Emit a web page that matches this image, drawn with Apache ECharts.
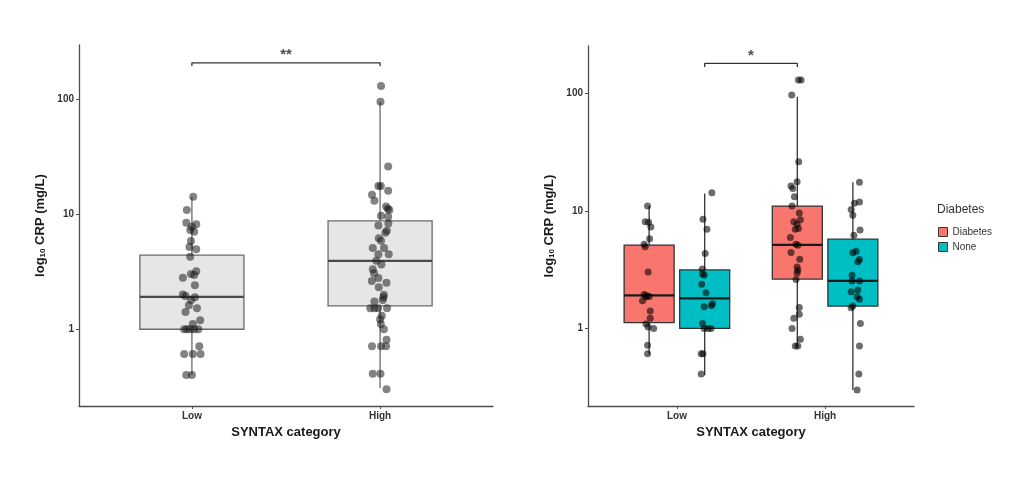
<!DOCTYPE html>
<html>
<head>
<meta charset="utf-8">
<script src="https://cdn.jsdelivr.net/npm/echarts@6/dist/echarts.min.js"></script>
<style>
  html, body { margin: 0; padding: 0; background: #fff; }
  #myChart { width: 1024px; height: 479px; }
</style>
</head>
<body>
<div id="myChart"></div>
<script>
  // categories and tick labels
  var categories = ['Low', 'High']
  var groups = ['Diabetes', 'None']
  var yTicks = [1, 10, 100]

  // boxes: [x, min, q1, median, q3, max]
  var allBoxes = [[1, 0.40, 1.00, 1.91, 4.42, 14.2], [2, 0.307, 1.60, 3.93, 8.75, 95.3]]
  var diabetesBoxes = [[0.8125, 0.60, 1.12, 1.91, 5.12, 11.0], [1.8125, 0.70, 2.63, 5.15, 11.0, 93.5]]
  var noneBoxes = [[1.1875, 0.40, 1.00, 1.80, 3.15, 14.1], [2.1875, 0.30, 1.55, 2.54, 5.75, 17.5]]

  // jittered points: [x, CRP]
  var allPoints = [
    [1.007, 14.2], [0.973, 10.9], [0.970, 8.45], [1.023, 8.2], [1.000, 7.8], [0.991, 7.3], [1.012, 7.06],
    [0.995, 5.86], [0.987, 5.2], [1.023, 4.96], [0.991, 4.28], [1.023, 3.2], [0.995, 3.03], [1.012, 2.97],
    [0.952, 2.81], [1.016, 2.41], [0.952, 2.01], [0.966, 1.95], [1.016, 1.9], [0.996, 1.8], [0.984, 1.62],
    [1.027, 1.52], [0.966, 1.41], [1.044, 1.2], [1.005, 1.11], [0.959, 1.0], [0.973, 1.0], [0.991, 1.0],
    [1.012, 1.0], [1.034, 1.0], [1.039, 0.71], [0.959, 0.61], [1.005, 0.61], [1.046, 0.61], [0.970, 0.40],
    [1.000, 0.40],
    [2.005, 130.6], [2.002, 95.3], [2.043, 26.1], [1.991, 17.6], [2.004, 17.6], [2.043, 16.0], [1.957, 14.8],
    [1.970, 13.1], [2.032, 11.7], [2.041, 11.2], [2.049, 10.9], [2.005, 9.7], [2.043, 9.5], [2.044, 8.3],
    [1.991, 8.0], [2.036, 7.2], [2.028, 6.9], [1.993, 6.2], [2.005, 5.9], [1.961, 5.1], [2.021, 5.1],
    [2.046, 4.49], [1.991, 4.49], [1.980, 3.95], [2.007, 3.65], [1.961, 3.32], [1.968, 3.07], [1.991, 2.79],
    [1.956, 2.63], [2.034, 2.54], [1.993, 2.32], [2.020, 2.0], [2.018, 1.9], [2.014, 1.8], [1.970, 1.74],
    [1.948, 1.52], [1.970, 1.52], [1.989, 1.52], [2.037, 1.52], [2.009, 1.31], [2.000, 1.22], [2.004, 1.11],
    [2.020, 1.0], [2.034, 0.81], [1.957, 0.71], [2.005, 0.71], [2.032, 0.71], [1.961, 0.41], [2.002, 0.41],
    [2.034, 0.30]
  ]
  var diabetesPoints = [
    [0.802, 11.0], [0.786, 8.1], [0.809, 8.0], [0.824, 7.3], [0.816, 5.8], [0.779, 5.2], [0.786, 4.95],
    [0.806, 3.03], [0.779, 1.95], [0.797, 1.9], [0.813, 1.87], [0.791, 1.85], [0.768, 1.72], [0.820, 1.41],
    [0.820, 1.22], [0.791, 1.09], [0.806, 1.03], [0.843, 1.0], [0.802, 0.72], [0.802, 0.61],
    [1.820, 129.8], [1.838, 129.8], [1.775, 96.8], [1.822, 26.2], [1.770, 16.3], [1.782, 15.5], [1.811, 17.7],
    [1.793, 13.2], [1.777, 11.0], [1.826, 9.6], [1.789, 8.1], [1.833, 8.4], [1.811, 7.7], [1.799, 7.0],
    [1.820, 7.1], [1.766, 5.95], [1.804, 5.2], [1.816, 5.1], [1.770, 4.43], [1.829, 3.89], [1.811, 3.34],
    [1.816, 3.13], [1.811, 2.97], [1.804, 2.61], [1.826, 1.51], [1.789, 1.22], [1.826, 1.32], [1.777, 1.0],
    [1.833, 0.81], [1.799, 0.71], [1.816, 0.71]
  ]
  var nonePoints = [
    [1.236, 14.3], [1.176, 8.5], [1.203, 7.0], [1.191, 4.35], [1.171, 3.2], [1.173, 2.9], [1.184, 2.85],
    [1.167, 2.38], [1.196, 2.01], [1.184, 1.53], [1.232, 1.57], [1.241, 1.62], [1.173, 1.1], [1.184, 1.0],
    [1.211, 1.0], [1.230, 1.0], [1.164, 0.61], [1.176, 0.61], [1.164, 0.41],
    [2.232, 17.5], [2.232, 11.9], [2.198, 11.6], [2.176, 10.3], [2.187, 9.2], [2.236, 6.87], [2.194, 6.2],
    [2.209, 4.55], [2.187, 4.4], [2.232, 3.87], [2.221, 3.69], [2.182, 2.84], [2.232, 2.53], [2.182, 2.53],
    [2.221, 2.12], [2.176, 2.05], [2.216, 1.86], [2.232, 1.77], [2.187, 1.55], [2.176, 1.5], [2.238, 1.1],
    [2.232, 0.71], [2.228, 0.41], [2.216, 0.30]
  ]

  // significance brackets
  var leftBracket = [[1, 195], [1, 208], [2, 208], [2, 195]]
  var leftSignif = [[1.5, 208, '**']]
  var rightBracket = [[1.1875, 168], [1.1875, 180], [1.8125, 180], [1.8125, 168]]
  var rightSignif = [[1.5, 180, '*']]

  var FONT = '"Liberation Sans", Arial, sans-serif'

  function boxItem(fill, stroke, medianColor, width) {
    return function (params, api) {
      var x = api.value(0)
      var lo = api.coord([x, api.value(1)])
      var hi = api.coord([x, api.value(5)])
      var bl = api.coord([x - width / 2, api.value(2)])
      var tr = api.coord([x + width / 2, api.value(4)])
      var ml = api.coord([x - width / 2, api.value(3)])
      var mr = api.coord([x + width / 2, api.value(3)])
      return {
        type: 'group',
        children: [
          { type: 'line', shape: { x1: lo[0], y1: lo[1], x2: hi[0], y2: hi[1] }, style: { stroke: stroke, lineWidth: 1.3 } },
          { type: 'rect', shape: { x: bl[0], y: tr[1], width: tr[0] - bl[0], height: bl[1] - tr[1] }, style: { fill: fill, stroke: stroke, lineWidth: 1.3 } },
          { type: 'line', shape: { x1: ml[0], y1: ml[1], x2: mr[0], y2: mr[1] }, style: { stroke: medianColor, lineWidth: 2.2 } }
        ]
      }
    }
  }

  function xAxisFor(gridIndex) {
    return {
      type: 'value', gridIndex: gridIndex, min: 0.4, max: 2.6,
      name: 'SYNTAX category', nameLocation: 'middle', nameGap: 18,
      nameTextStyle: { fontFamily: FONT, fontWeight: 'bold', fontSize: 13, color: '#1a1a1a' },
      axisLine: { lineStyle: { color: '#4d4d4d', width: 1.3 } },
      axisTick: { customValues: [1, 2], length: 3, lineStyle: { color: '#4d4d4d' } },
      axisLabel: {
        customValues: [1, 2], margin: 5, fontFamily: FONT, fontWeight: 'bold', fontSize: 10, color: '#333',
        formatter: function (v) { return categories[Math.round(v) - 1] }
      },
      splitLine: { show: false }
    }
  }

  function yAxisFor(gridIndex, min, max) {
    return {
      type: 'log', logBase: 10, gridIndex: gridIndex, min: min, max: max,
      name: 'log{sub|10} CRP (mg/L)', nameLocation: 'middle', nameGap: 32,
      nameTextStyle: {
        fontFamily: FONT, fontWeight: 'bold', fontSize: 13, color: '#1a1a1a',
        rich: { sub: { fontFamily: FONT, fontSize: 8, color: '#1a1a1a', verticalAlign: 'bottom', padding: [5, 0, 0, 0] } }
      },
      axisLine: { show: true, lineStyle: { color: '#4d4d4d', width: 1.3 } },
      axisTick: { show: true, customValues: yTicks, length: 3, lineStyle: { color: '#4d4d4d' } },
      axisLabel: {
        customValues: yTicks, margin: 5, fontFamily: FONT, fontWeight: 'bold', fontSize: 10, color: '#333',
        formatter: function (v) { return String(v) }
      },
      splitLine: { show: false }
    }
  }

  function bracketSeries(idx, data, signif) {
    return [
      {
        type: 'line', xAxisIndex: idx, yAxisIndex: idx, data: data, symbol: 'none', silent: true,
        lineStyle: { color: '#333', width: 1.3 }, z: 5
      },
      {
        type: 'scatter', xAxisIndex: idx, yAxisIndex: idx, data: signif, symbolSize: 0, silent: true,
        label: {
          show: true, position: 'top', distance: 0, fontFamily: FONT, fontSize: 15, fontWeight: 'bold', color: '#222',
          formatter: function (p) { return p.data[2] }
        }
      }
    ]
  }

  var myChart = echarts.init(document.getElementById('myChart'))
  var option = {
    animation: false,
    backgroundColor: '#fff',
    title: {
      text: 'Diabetes', left: 932, top: 199,
      textStyle: { fontFamily: FONT, fontSize: 12, fontWeight: 'normal', color: '#333' }
    },
    legend: {
      data: groups, orient: 'vertical', left: 933, top: 222, itemWidth: 9, itemHeight: 9, itemGap: 5,
      icon: 'rect', selectedMode: false,
      itemStyle: { borderColor: '#333', borderWidth: 1 },
      textStyle: { fontFamily: FONT, fontSize: 10, color: '#333' }
    },
    grid: [
      { left: 79, top: 45, width: 414, height: 361 },
      { left: 588, top: 46, width: 326, height: 360 }
    ],
    xAxis: [xAxisFor(0), xAxisFor(1)],
    yAxis: [yAxisFor(0, 0.215, 297), yAxisFor(1, 0.219, 253)],
    series: [
      {
        name: 'All', type: 'custom', xAxisIndex: 0, yAxisIndex: 0, data: allBoxes,
        encode: { x: 0, y: [1, 2, 3, 4, 5] }, silent: true,
        renderItem: boxItem('#e6e6e6', '#6b6b6b', '#4a4a4a', 0.553)
      },
      {
        name: 'Diabetes', type: 'custom', xAxisIndex: 1, yAxisIndex: 1, data: diabetesBoxes,
        encode: { x: 0, y: [1, 2, 3, 4, 5] }, silent: true, itemStyle: { color: '#F8766D' },
        renderItem: boxItem('#F8766D', '#333', '#1a1a1a', 0.3375)
      },
      {
        name: 'None', type: 'custom', xAxisIndex: 1, yAxisIndex: 1, data: noneBoxes,
        encode: { x: 0, y: [1, 2, 3, 4, 5] }, silent: true, itemStyle: { color: '#00BFC4' },
        renderItem: boxItem('#00BFC4', '#333', '#1a1a1a', 0.3375)
      },
      {
        type: 'scatter', xAxisIndex: 0, yAxisIndex: 0, data: allPoints, symbolSize: 8, silent: true, z: 4,
        itemStyle: { color: 'rgba(25,25,25,0.68)' }
      },
      {
        type: 'scatter', xAxisIndex: 1, yAxisIndex: 1, data: diabetesPoints, symbolSize: 7, silent: true, z: 4,
        itemStyle: { color: 'rgba(0,0,0,0.72)' }
      },
      {
        type: 'scatter', xAxisIndex: 1, yAxisIndex: 1, data: nonePoints, symbolSize: 7, silent: true, z: 4,
        itemStyle: { color: 'rgba(0,0,0,0.72)' }
      }
    ].concat(bracketSeries(0, leftBracket, leftSignif), bracketSeries(1, rightBracket, rightSignif))
  }
  myChart.setOption(option)
</script>
</body>
</html>
